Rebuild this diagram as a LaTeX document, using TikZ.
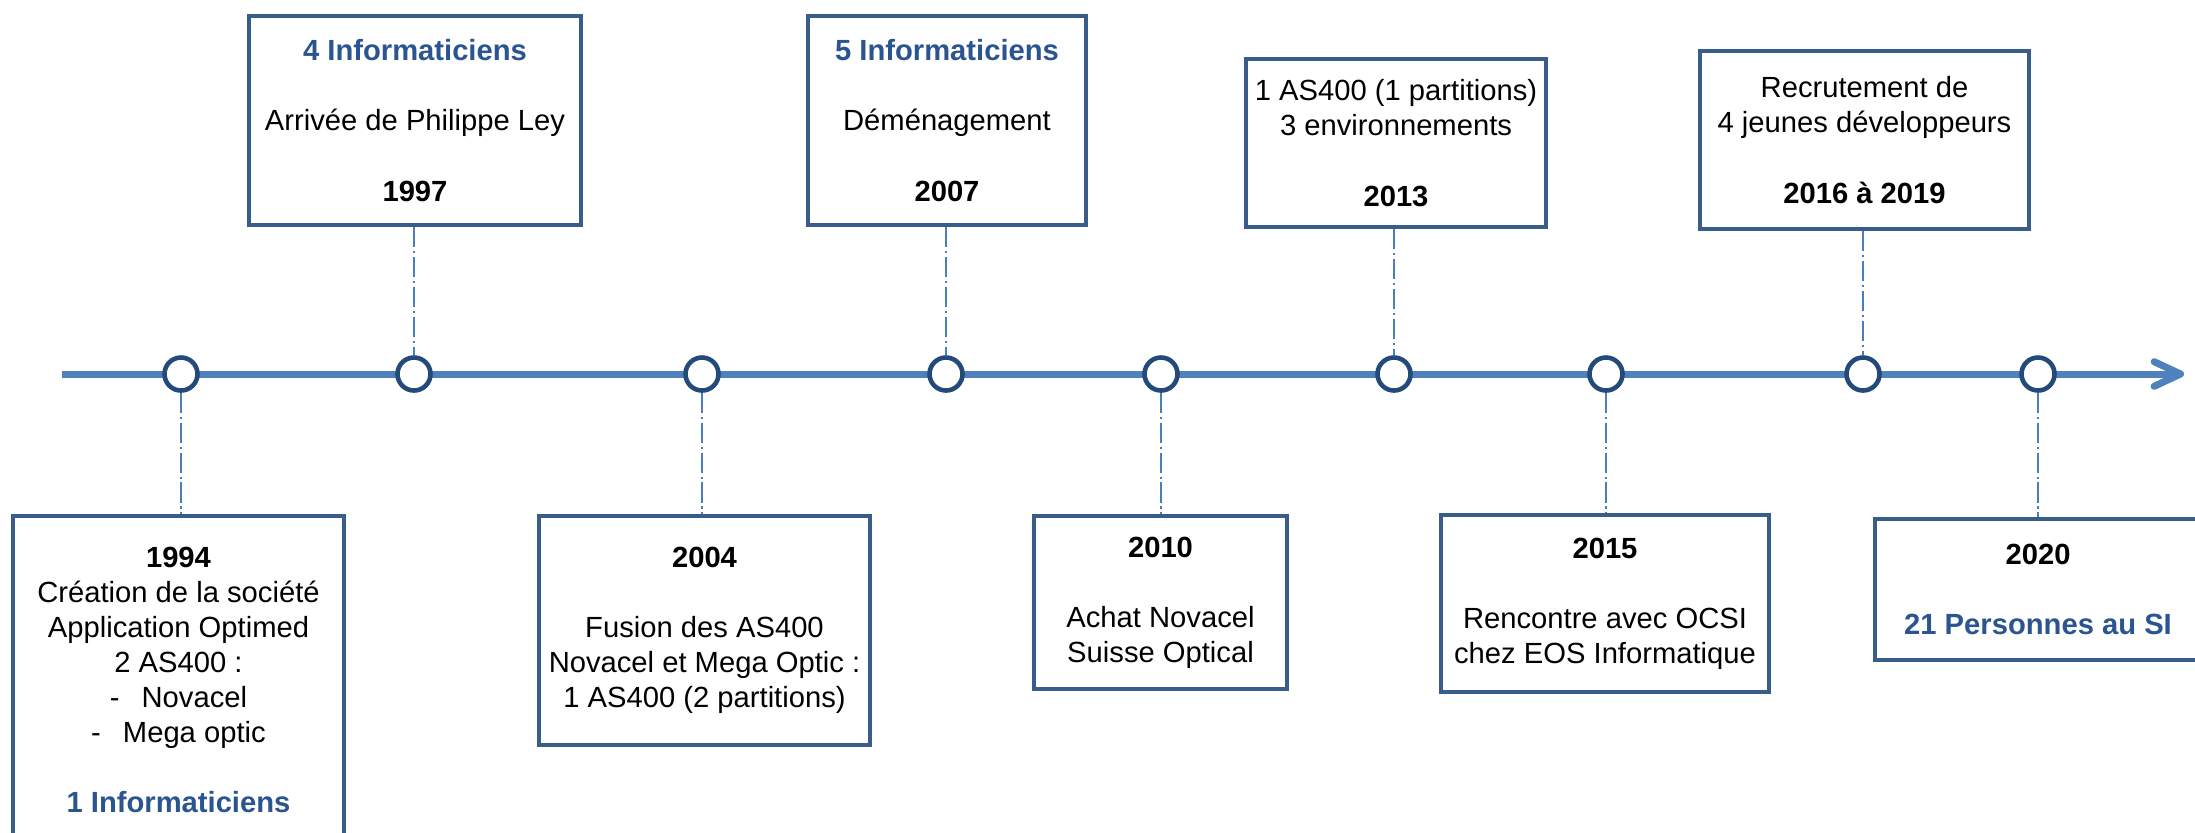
\documentclass[tikz,border=0pt]{standalone}
\usepackage{fontspec}
\setmainfont{Liberation Sans}
\usetikzlibrary{arrows.meta}

\definecolor{lineblue}{HTML}{4F81BD}
\definecolor{boxblue}{HTML}{385D8A}
\definecolor{dotblue}{HTML}{244A7C}
\definecolor{linkblue}{HTML}{4A7EBB}
\definecolor{staffblue}{HTML}{2A5590}

\newcommand{\yr}[1]{\textbf{#1}}
\newcommand{\staff}[1]{\textbf{\color{staffblue}#1}}

\begin{document}
\begin{tikzpicture}[x = 0.01cm, y = -0.01cm,
		font = \fontsize{8.3}{9.96}\selectfont,
		event/.style = {draw = boxblue, line width = 1.3pt, fill = white, align = center, inner sep = 0pt},
		milestone/.style = {circle, draw = dotblue, line width = 1.3pt, fill = white, minimum size = 0.33cm, inner sep = 0pt},
		link/.style = {draw = linkblue, line width = 0.6pt, dash pattern = on 5.7pt off 1.1pt on 0.6pt off 1.1pt}]
		
		\path[use as bounding box, clip] (0,0) rectangle (2195,832);
		
		% axe du temps
		\coordinate (start) at (62,374);
		\coordinate (end) at (2184,374);
		\draw[lineblue, line width = 2pt, -{Straight Barb[length = 7.5pt, width = 7pt, round]}] (start) -- (end);
		
		\node[milestone] (p1994) at (181,374) {};
		\node[milestone] (p1997) at (414,374) {};
		\node[milestone] (p2004) at (702,374) {};
		\node[milestone] (p2007) at (946,374) {};
		\node[milestone] (p2010) at (1161,374) {};
		\node[milestone] (p2013) at (1394,374) {};
		\node[milestone] (p2015) at (1606,374) {};
		\node[milestone] (p2016) at (1863,374) {};
		\node[milestone] (p2020) at (2038,374) {};
		
		% en haut
		\node[event, minimum width = 3.32cm, minimum height = 2.09cm] (y1997) at (415,120.5)
			{\staff{4 Informaticiens}\\[10pt] Arrivée de Philippe Ley\\[10pt] \yr{1997}};
		\node[event, minimum width = 2.78cm, minimum height = 2.09cm] (y2007) at (947,120.5)
			{\staff{5 Informaticiens}\\[10pt] Déménagement\\[10pt] \yr{2007}};
		\node[event, minimum width = 3.00cm, minimum height = 1.68cm] (y2013) at (1396,143)
			{1 AS400 (1 partitions)\\ 3 environnements\\[10pt] \yr{2013}};
		\node[event, minimum width = 3.29cm, minimum height = 1.78cm] (y2016) at (1864.5,140)
			{Recrutement de\\ 4 jeunes développeurs\\[10pt] \yr{2016 à 2019}};
		
		% en bas
		\node[event, minimum width = 3.31cm, minimum height = 3.28cm] (y1994) at (178.5,680)
			{\yr{1994}\\ Création de la société\\ Application Optimed\\ 2 AS400 :\\
			-\hspace{0.22cm}Novacel\\ -\hspace{0.22cm}Mega optic\\[10pt] \staff{1 Informaticiens}};
		\node[event, minimum width = 3.31cm, minimum height = 2.29cm] (y2004) at (704.5,630.5)
			{\yr{2004}\\[10pt] Fusion des AS400\\ Novacel et Mega Optic :\\ 1 AS400 (2 partitions)};
		\node[event, minimum width = 2.53cm, minimum height = 1.73cm] (y2010) at (1160.5,602.5)
			{\yr{2010}\\[10pt] Achat Novacel\\ Suisse Optical};
		\node[event, minimum width = 3.28cm, minimum height = 1.77cm] (y2015) at (1605,603.5)
			{\yr{2015}\\[10pt] Rencontre avec OCSI\\ chez EOS Informatique};
		\node[event, minimum width = 3.26cm, minimum height = 1.41cm] (y2020) at (2038,589.5)
			{\yr{2020}\\[10pt] \staff{21 Personnes au SI}};
		
		\draw[link] (p1997.north |- y1997.south) -- (p1997.north);
		\draw[link] (p2007.north |- y2007.south) -- (p2007.north);
		\draw[link] (p2013.north |- y2013.south) -- (p2013.north);
		\draw[link] (p2016.north |- y2016.south) -- (p2016.north);
		
		\draw[link] (p1994.south) -- (p1994.south |- y1994.north);
		\draw[link] (p2004.south) -- (p2004.south |- y2004.north);
		\draw[link] (p2010.south) -- (p2010.south |- y2010.north);
		\draw[link] (p2015.south) -- (p2015.south |- y2015.north);
		\draw[link] (p2020.south) -- (p2020.south |- y2020.north);
		
	\end{tikzpicture}
\end{document}
